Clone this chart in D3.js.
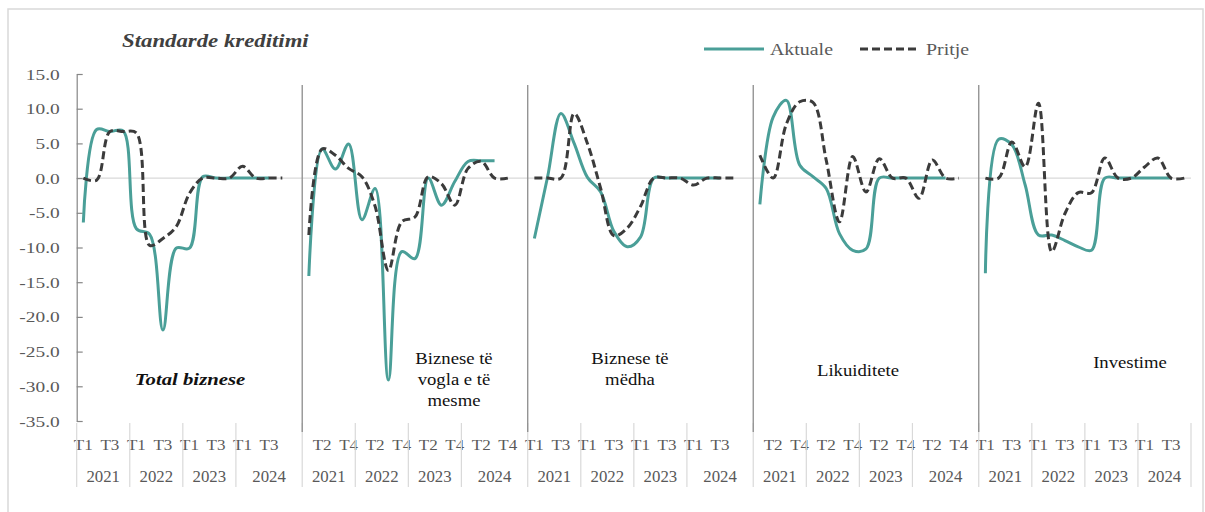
<!DOCTYPE html>
<html><head><meta charset="utf-8">
<script src="https://cdn.jsdelivr.net/npm/d3@7"></script>
<style>body{margin:0;background:#fff}svg text{font-family:"Liberation Serif","Times New Roman",serif}</style>
</head><body><svg id="c" width="1205" height="512"></svg>
<script>
// ---------- data ----------
const years = ["2021", "2022", "2023", "2024"];
const quarters = ["T1", "T2", "T3", "T4"];
const panelLabels = [["Total biznese"], ["Biznese të", "vogla e të", "mesme"], ["Biznese të", "mëdha"], ["Likuiditete"], ["Investime"]];
const yTicks = [15, 10, 5, 0, -5, -10, -15, -20, -25, -30, -35];
const seriesNames = ["Aktuale", "Pritje"];

const aktualeTotal = [-6.4, 7.0, 6.7, 6.8, -7.3, -8.1, -21.9, -10.1, -10.1, 0.2, 0, 0, 0, 0, 0];
const pritjeTotal  = [0, -0.3, 6.7, 6.7, 6.5, -9.7, -8.7, -7.0, -2.2, 0, 0, 0, 1.7, 0, 0, 0];

const aktualeSME = [-14.1, 4.2, 1.3, 4.9, -6.0, -1.5, -29.1, -10.6, -11.6, 0, -3.9, -0.5, 2.4, 2.5, 2.5];
const pritjeSME  = [-8.2, 4.2, 3.3, 1.4, 0.2, -4.1, -13.3, -6.3, -5.6, 0.2, -0.8, -3.9, 1.4, 2.4, 0, 0];

const aktualeLarge = [-8.7, 0.2, 9.3, 5.0, 0.1, -2.0, -7.7, -9.9, -8.5, 0, 0, 0, 0, 0, 0];
const pritjeLarge  = [0, 0, 0, 9.3, 5.0, -1.5, -8.3, -7.2, -4.1, 0, 0, 0, -1.0, 0, 0, 0];

const aktualeLikuid = [-3.8, 8.8, 11.2, 1.9, 0.2, -1.5, -8.0, -10.4, -10.2, 0, 0, 0, 0, 0, 0];
const pritjeLikuid  = [3.3, 0, 7.8, 11.0, 10.9, 2.6, -6.3, 3.1, -2.0, 2.8, 0, 0, -2.9, 2.6, 0, 0];

const aktualeInvest = [-13.7, 5.6, 4.8, -1.0, -8.2, -8.2, -9.0, -9.9, -10.4, 0, 0, 0, 0, 0, 0];
const pritjeInvest  = [0, 0, 5.2, 1.6, 10.8, -10.6, -5.1, -2.1, -2.1, 2.9, 0, 0, 1.6, 2.9, 0, 0];

const aktualeSeries = [aktualeTotal, aktualeSME, aktualeLarge, aktualeLikuid, aktualeInvest];
const pritjeSeries  = [pritjeTotal, pritjeSME, pritjeLarge, pritjeLikuid, pritjeInvest];

// ---------- setup ----------
const svg = d3.select("#c");
const FONT = '"Liberation Serif","Times New Roman",serif';
const TEAL = "#4a9f98", DARK = "#3b3b3b", GRAY = "#595959";

// categories: 16 quarters per panel + one blank between panels
const cats = [];
panelLabels.forEach((p, pi) => {
  years.forEach(yr => quarters.forEach(q => cats.push({pi, yr, q})));
  if (pi < panelLabels.length - 1) cats.push({pi, blank: true});
});
const panelStart = pi => pi * 17;

const x = d3.scaleBand().domain(d3.range(cats.length)).range([76.7, 1191]).padding(0);
const bw = x.bandwidth();
const cx = i => x(i) + bw / 2;
const y = d3.scaleLinear().domain([-35, 15]).range([421, 74]);

function txt(g, px, py, s, o) {
  o = o || {};
  const t = g.append("text")
    .attr("transform", `translate(${px},${py}) scale(${o.sx || 1},1)`)
    .attr("text-anchor", o.anchor || "start")
    .attr("font-size", o.size || 15)
    .attr("font-weight", o.weight || "normal")
    .attr("font-style", o.style || "normal")
    .attr("fill", o.fill || GRAY)
    .text(s);
  return t;
}

// chart border
svg.append("rect").attr("x", 8).attr("y", 9).attr("width", 1195).attr("height", 520)
  .attr("fill", "none").attr("stroke", "#d9d9d9").attr("stroke-width", 1.5);

// zero line
svg.append("line").attr("x1", 76.7).attr("x2", 1191).attr("y1", y(0)).attr("y2", y(0))
  .attr("stroke", "#d9d9d9").attr("stroke-width", 1.3);

// y axis
const yAxis = svg.append("g").attr("transform", "translate(76.7,0)")
  .call(d3.axisLeft(y).tickValues(yTicks).tickSizeInner(-6).tickSizeOuter(0)
    .tickPadding(17).tickFormat(d => d.toFixed(1)));
yAxis.select(".domain").attr("stroke", "#868686").attr("stroke-width", 1.2);
yAxis.selectAll(".tick line").attr("stroke", "#868686").attr("stroke-width", 1.2);
yAxis.selectAll(".tick text").attr("x", null).attr("dy", null)
  .attr("transform", "translate(-17,5) scale(1.25,1)")
  .attr("font-family", FONT).attr("font-size", 15.5).attr("fill", GRAY);

// x axis quarter labels (every second category, as in original)
const evenIdx = d3.range(cats.length).filter(i => i % 2 === 0 && !cats[i].blank);
const xAxis = svg.append("g").attr("transform", "translate(0,423)")
  .call(d3.axisBottom(x).tickValues(evenIdx).tickSize(0).tickPadding(0).tickFormat(i => cats[i].q));
xAxis.select(".domain").remove();
xAxis.selectAll(".tick text").attr("y", null).attr("dy", null)
  .attr("transform", "translate(0,27) scale(1.1,1)")
  .attr("font-family", FONT).attr("font-size", 15.5).attr("fill", GRAY);

// year labels and separators
const sepG = svg.append("g");
panelLabels.forEach((p, pi) => {
  const s = panelStart(pi);
  years.forEach((yr, yi) => {
    const a = s + yi * 4;
    const b = (yi === 3) ? (pi < 4 ? s + 17 : s + 16) : a + 4;
    const xa = x(a), xb = (b >= cats.length) ? 1191 : x(b);
    txt(svg, (xa + xb) / 2, 482, yr, {anchor: "middle", size: 16, sx: 1.05});
    sepG.append("line").attr("x1", xa).attr("x2", xa).attr("y1", 423).attr("y2", 487)
      .attr("stroke", "#d9d9d9").attr("stroke-width", 1.2);
  });
});
sepG.append("line").attr("x1", 1191).attr("x2", 1191).attr("y1", 423).attr("y2", 487)
  .attr("stroke", "#d9d9d9").attr("stroke-width", 1.2);

// panel dividers
d3.range(1, 5).forEach(pi => {
  const xv = x(panelStart(pi));
  svg.append("line").attr("x1", xv).attr("x2", xv).attr("y1", 85).attr("y2", 432)
    .attr("stroke", "#8c8c8c").attr("stroke-width", 1.3);
});

// lines
const line = d3.line().x(d => d[0]).y(d => d[1]).curve(d3.curveCatmullRom.alpha(0.5));
panelLabels.forEach((p, pi) => {
  const s = panelStart(pi);
  const pts = arr => arr.map((v, q) => [cx(s + q), y(v)]);
  svg.append("path").attr("d", line(pts(aktualeSeries[pi])))
    .attr("fill", "none").attr("stroke", TEAL).attr("stroke-width", 3);
  svg.append("path").attr("d", line(pts(pritjeSeries[pi])))
    .attr("fill", "none").attr("stroke", DARK).attr("stroke-width", 3)
    .attr("stroke-dasharray", "8,4");
});

// panel labels
const labelPos = [[190, 385], [454, 364], [630, 364], [858, 376], [1130, 368]];
panelLabels.forEach((lines, pi) => {
  lines.forEach((l, li) => {
    const bold = pi === 0;
    txt(svg, labelPos[pi][0], labelPos[pi][1] + li * 21, l, {
      anchor: "middle", size: 17, sx: bold ? 1.22 : 1.1, fill: "#111",
      weight: bold ? "bold" : "normal", style: bold ? "italic" : "normal"});
  });
});

// title
txt(svg, 122, 47, "Standarde kreditimi", {size: 19, weight: "bold", style: "italic", sx: 1.2, fill: "#404040"});

// legend
const leg = [{name: seriesNames[0], x: 704, color: TEAL, dash: null},
             {name: seriesNames[1], x: 860, color: DARK, dash: "8,4"}];
leg.forEach(l => {
  svg.append("line").attr("x1", l.x).attr("x2", l.x + 60).attr("y1", 49).attr("y2", 49)
    .attr("stroke", l.color).attr("stroke-width", 3).attr("stroke-dasharray", l.dash);
  txt(svg, l.x + 66, 55, l.name, {size: 17, sx: 1.17});
});
</script>
</body></html>
